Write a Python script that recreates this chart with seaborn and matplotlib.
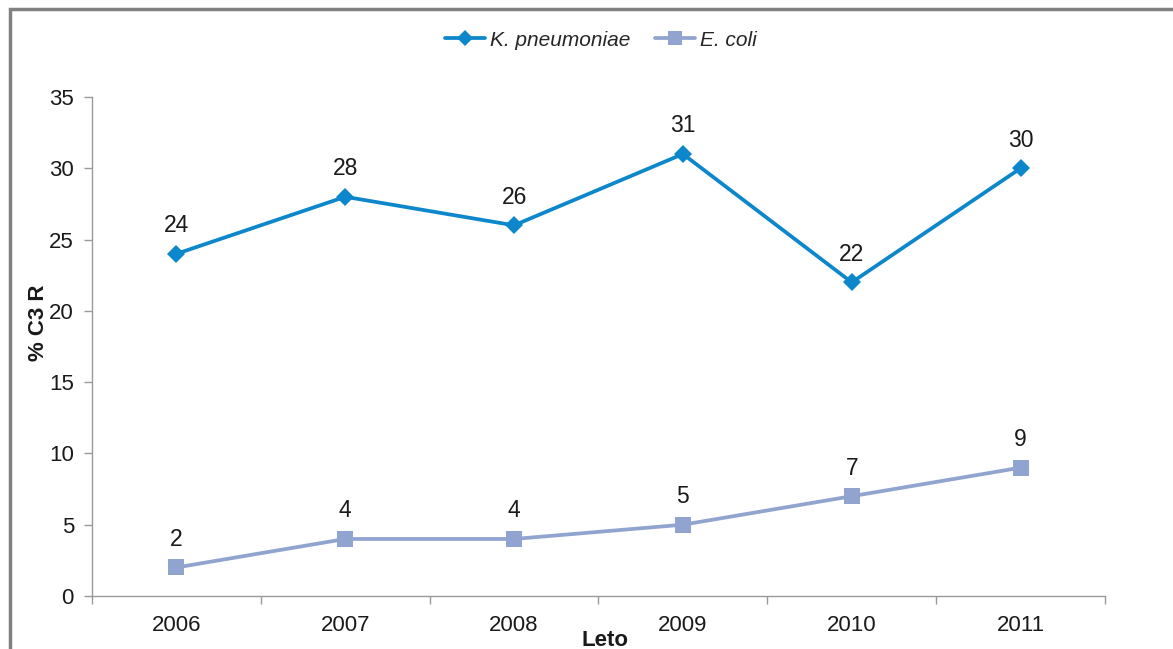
import numpy as np
import pandas as pd
import seaborn as sns
import matplotlib.pyplot as plt
from matplotlib.patches import Rectangle
from matplotlib.lines import Line2D

years = ['2006', '2007', '2008', '2009', '2010', '2011']
k_pneumoniae = [24, 28, 26, 31, 22, 30]
e_coli = [2, 4, 4, 5, 7, 9]

sns.set_theme(style='white')
plt.rcParams['font.family'] = ['Liberation Sans', 'DejaVu Sans']

df = pd.DataFrame({
    'x': list(range(len(years))) * 2,
    'val': k_pneumoniae + e_coli,
    'org': ['K. pneumoniae'] * len(years) + ['E. coli'] * len(years),
})

blue = '#0C87CC'
grey_blue = '#91A3CF'

fig = plt.figure(figsize=(11.73, 6.49), dpi=100)
ax = fig.add_axes([92 / 1173, 1 - 596 / 649, 1013 / 1173, 499 / 649])

sns.lineplot(data=df[df.org == 'K. pneumoniae'], x='x', y='val', color=blue,
             marker='D', markersize=9, linewidth=2.7, markeredgewidth=0, ax=ax)
sns.lineplot(data=df[df.org == 'E. coli'], x='x', y='val', color=grey_blue,
             marker='s', markersize=12, linewidth=2.7, markeredgewidth=0, ax=ax)

for vals in (k_pneumoniae, e_coli):
    for i, v in enumerate(vals):
        ax.annotate(str(v), (i, v), xytext=(0, 12), textcoords='offset points',
                    ha='center', va='bottom', fontsize=16.5, color='#1a1a1a')

ax.set_xlim(-0.5, len(years) - 0.5)
ax.set_ylim(0, 35)
ax.set_yticks(range(0, 36, 5))
ax.set_xticks(range(len(years)))
ax.set_xticklabels(years)
ax.set_xticks(np.arange(-0.5, len(years), 1), minor=True)
ax.tick_params(axis='x', which='major', length=0, pad=14, labelsize=16, labelcolor='#1a1a1a')
ax.tick_params(axis='x', which='minor', length=6, width=1, color='#999999', direction='out', bottom=True)
ax.tick_params(axis='y', length=6, width=1, color='#999999', direction='out', left=True,
               labelsize=16, labelcolor='#1a1a1a', pad=7)

for s in ['top', 'right']:
    ax.spines[s].set_visible(False)
for s in ['left', 'bottom']:
    ax.spines[s].set_color('#999999')
    ax.spines[s].set_linewidth(1)
ax.grid(False)

ax.set_xlabel('')
ax.set_ylabel('')
fig.text(605 / 1173, 1 - 640 / 649, 'Leto', ha='center', va='center',
         fontsize=16, fontweight='bold', color='#1a1a1a')
fig.text(38 / 1173, 1 - 323 / 649, '% C3 R', ha='center', va='center', rotation=90,
         fontsize=16, fontweight='bold', color='#1a1a1a')

handles = [
    Line2D([], [], color=blue, marker='D', markersize=8, linewidth=2.7, markeredgewidth=0),
    Line2D([], [], color=grey_blue, marker='s', markersize=10, linewidth=2.7, markeredgewidth=0),
]
leg = fig.legend(handles, ['K. pneumoniae', 'E. coli'], loc='center',
                 bbox_to_anchor=(601 / 1173, 1 - 40 / 649), ncol=2, frameon=False,
                 prop={'style': 'italic', 'size': 15}, handlelength=1.9,
                 handletextpad=0.25, columnspacing=1.2)

# chart frame
fig.patches.append(Rectangle((10 / 1173, -0.1), 1.2, 1.1 - 9 / 649, transform=fig.transFigure,
                             fill=False, edgecolor='#808080', linewidth=2.5))

fig.savefig('out.png', dpi=100)
